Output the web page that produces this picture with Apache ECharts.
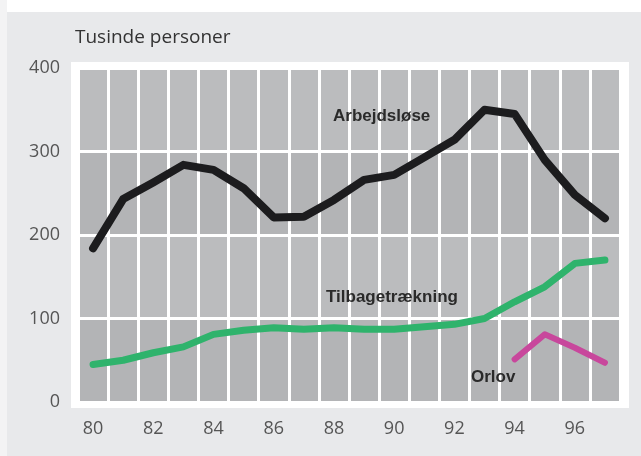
<!DOCTYPE html>
<html><head><meta charset="utf-8">
<script src="https://cdn.jsdelivr.net/npm/echarts@6/dist/echarts.min.js"></script>
<style>html,body{margin:0;padding:0;background:#fff}#c{width:641px;height:456px}</style>
</head><body><div id="c"></div>
<script>
const years = ['80','81','82','83','84','85','86','87','88','89','90','91','92','93','94','95','96','97'];
const arbejdsloese = [184,243,263,284,278,256,221,222,242,266,272,293,314,350,345,290,248,220];
const tilbagetraekning = [45,50,59,66,81,86,89,87,89,87,87,90,93,100,120,138,166,170];
const orlov = [null,null,null,null,null,null,null,null,null,null,null,null,null,null,51,81,65,47];
const yTicks = [0,100,200,300,400];

const chart = echarts.init(document.getElementById('c'));
const tickFont = {fontFamily:'Open Sans', fontSize:18, color:'#555'};
const lbl = {fontFamily:'Liberation Sans', fontWeight:'bold', fontSize:17, fill:'#2a2a2a'};
chart.setOption({
  backgroundColor:'#e8e9eb',
  animation:false,
  graphic:[
    {type:'rect', shape:{x:0,y:0,width:641,height:12}, style:{fill:'#ffffff'}, z:-10},
    {type:'rect', shape:{x:0,y:0,width:7,height:456}, style:{fill:'#f3f3f4'}, z:-10},
    {type:'rect', shape:{x:71,y:62,width:558,height:346}, style:{fill:'#ffffff'}, z:-5},
    {type:'text', left:75, top:28, style:{text:'Tusinde personer', fontFamily:'Open Sans', fontSize:19, fill:'#333'}},
    {type:'text', left:333, top:108, style:Object.assign({text:'Arbejdsløse'}, lbl), z:100},
    {type:'text', left:326, top:289, style:Object.assign({text:'Tilbagetrækning', fontSize:17.5}, lbl), z:100},
    {type:'text', left:471, top:369, style:Object.assign({text:'Orlov'}, lbl), z:100}
  ],
  grid:{left:78, right:21, top:68, bottom:54, show:false},
  xAxis:{
    type:'category', data:years, boundaryGap:true,
    axisLine:{show:false}, axisTick:{show:false},
    axisLabel:Object.assign({interval:1, margin:18}, tickFont),
    splitLine:{show:true, interval:0, lineStyle:{color:'#ffffff', width:3}}
  },
  yAxis:{
    type:'value', min:0, max:400, interval:100,
    axisLine:{show:false}, axisTick:{show:false},
    axisLabel:Object.assign({margin:18, customValues:yTicks}, tickFont),
    splitLine:{show:true, lineStyle:{color:'#ffffff', width:3}},
    splitArea:{show:true, areaStyle:{color:['#b3b4b6','#bbbcbe']}}
  },
  series:[
    {name:'Arbejdsløse', type:'line', data:arbejdsloese, symbol:'none', lineStyle:{color:'#1c1c1e', width:8, cap:'round', join:'round'}, z:5},
    {name:'Tilbagetrækning', type:'line', data:tilbagetraekning, symbol:'none', lineStyle:{color:'#2fb36c', width:7, cap:'round', join:'round'}, z:4},
    {name:'Orlov', type:'line', data:orlov, symbol:'none', lineStyle:{color:'#c8479c', width:6, cap:'round', join:'round'}, z:4}
  ]
});
</script></body></html>
